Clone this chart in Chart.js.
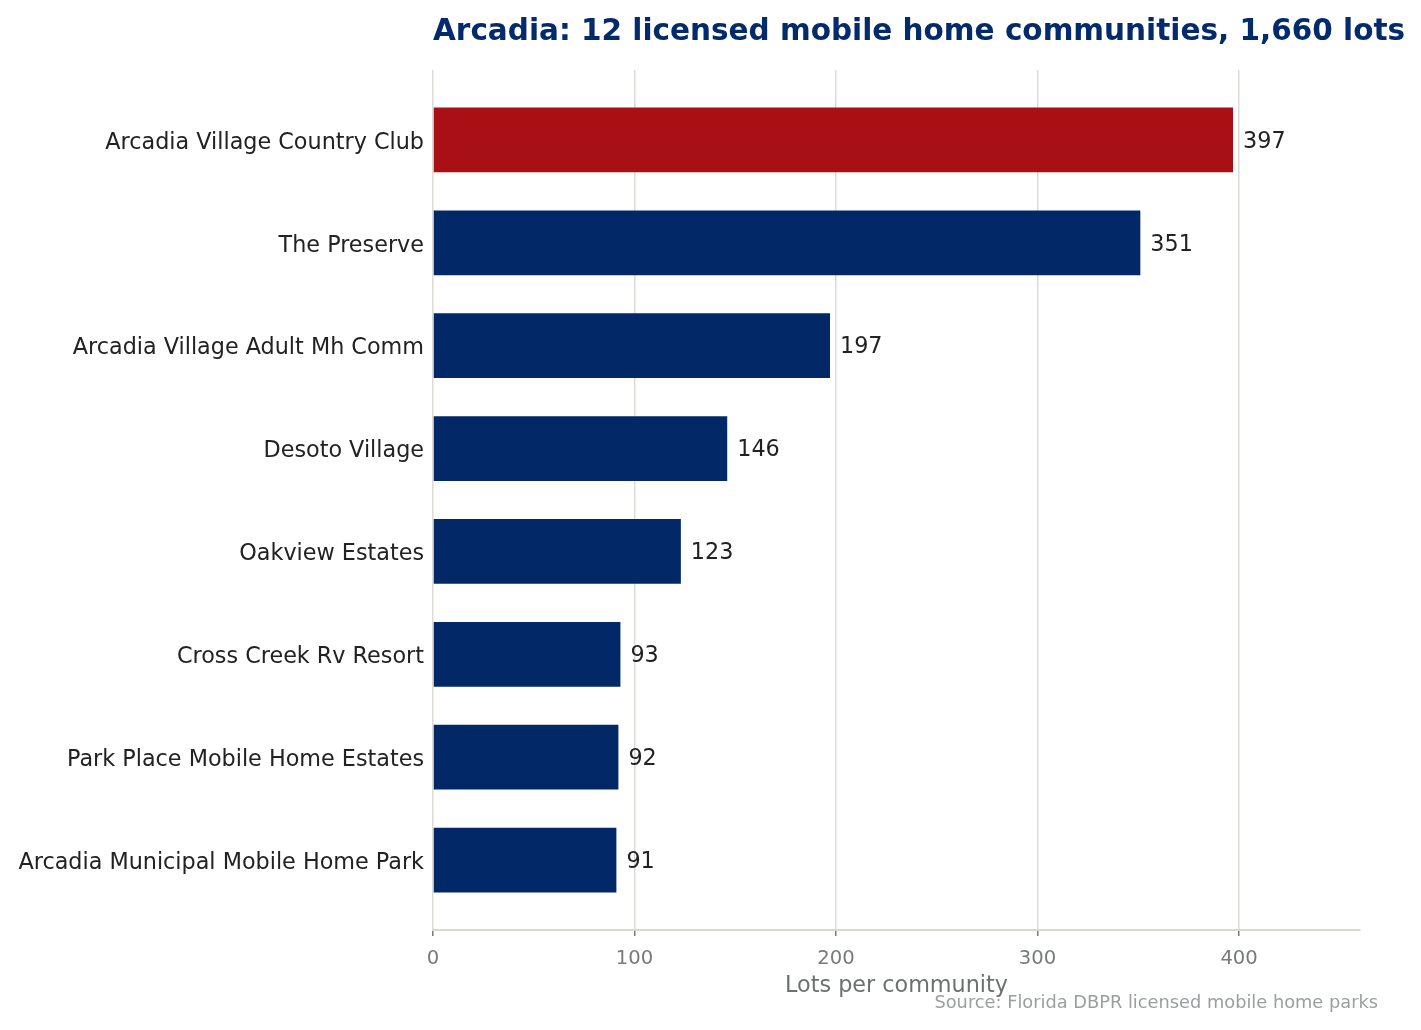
<!DOCTYPE html>
<html>
<head>
<meta charset="utf-8">
<script src="https://cdn.jsdelivr.net/npm/chart.js@4/dist/chart.umd.min.js"></script>
<style>
  html, body { margin: 0; padding: 0; background: #ffffff; }
  #wrap { width: 1421px; height: 1030px; position: relative; }
</style>
</head>
<body>
<div id="wrap"><canvas id="lotsChart"></canvas></div>
<script>
// Données
const communities = [
    'Arcadia Village Country Club',
    'The Preserve',
    'Arcadia Village Adult Mh Comm',
    'Desoto Village',
    'Oakview Estates',
    'Cross Creek Rv Resort',
    'Park Place Mobile Home Estates',
    'Arcadia Municipal Mobile Home Park'
];
const lots = [397, 351, 197, 146, 123, 93, 92, 91];
const xTickValues = [0, 100, 200, 300, 400];

const titleText = 'Arcadia: 12 licensed mobile home communities, 1,660 lots';
const sourceText = 'Source: Florida DBPR licensed mobile home parks';

const NAVY = '#022868';
const RED = '#a81015';

Chart.defaults.font.family = "'DejaVu Sans', 'Liberation Sans', sans-serif";

// Titre, source et valeurs au bout des barres
const annotations = {
    id: 'annotations',
    afterDatasetsDraw(chart) {
        const ctx = chart.ctx;
        const area = chart.chartArea;
        ctx.save();
        ctx.fillStyle = '#222222';
        ctx.font = "22.3px 'DejaVu Sans', sans-serif";
        ctx.textAlign = 'left';
        ctx.textBaseline = 'middle';
        chart.getDatasetMeta(0).data.forEach(function(bar, i) {
            ctx.fillText(lots[i], bar.x + 10, bar.y + 2);
        });

        ctx.fillStyle = '#032a6b';
        ctx.font = "bold 29.5px 'DejaVu Sans', sans-serif";
        ctx.fillText(titleText, area.left, 32);

        ctx.fillStyle = '#9a9e9f';
        ctx.font = "17.8px 'DejaVu Sans', sans-serif";
        ctx.textAlign = 'right';
        ctx.fillText(sourceText, 1378, 1003);
        ctx.restore();
    }
};

const lotsChart = new Chart(document.getElementById('lotsChart'), {
    type: 'bar',
    data: {
        datasets: [{
            data: lots.map(function(v, i) { return { x: v, y: i }; }),
            backgroundColor: lots.map(function(v, i) { return i === 0 ? RED : NAVY; }),
            barPercentage: 0.63,
            categoryPercentage: 1.0,
            borderWidth: 0
        }]
    },
    options: {
        indexAxis: 'y',
        responsive: true,
        maintainAspectRatio: false,
        animation: false,
        devicePixelRatio: 1,
        layout: {
            padding: { left: 0, right: 61, top: 70, bottom: 30 }
        },
        plugins: {
            legend: { display: false },
            title: { display: false },
            tooltip: { enabled: false }
        },
        scales: {
            x: {
                type: 'linear',
                min: 0,
                max: 460,
                afterBuildTicks: function(scale) {
                    scale.ticks = xTickValues.map(function(v) { return { value: v }; });
                },
                afterFit: function(scale) { scale.height = 70; },
                grid: {
                    color: '#dcdbd6',
                    lineWidth: 1.5,
                    drawTicks: true,
                    tickLength: 6,
                    tickColor: '#777b7a'
                },
                border: { display: true, color: '#dad7cd', width: 2 },
                ticks: {
                    color: '#777b7a',
                    font: { size: 19.6 },
                    padding: 11
                },
                title: {
                    display: true,
                    text: 'Lots per community',
                    color: '#6c716f',
                    font: { size: 22.3 },
                    padding: { top: 2, bottom: 0 }
                }
            },
            y: {
                type: 'linear',
                reverse: true,
                offset: false,
                min: -0.68,
                max: 7.68,
                afterBuildTicks: function(scale) {
                    scale.ticks = communities.map(function(c, i) { return { value: i }; });
                },
                afterFit: function(scale) { scale.width = 433; },
                grid: { display: false, drawTicks: false },
                border: { display: false },
                ticks: {
                    color: '#222222',
                    font: { size: 22.3 },
                    padding: 9,
                    labelOffset: 3,
                    autoSkip: false,
                    callback: function(value) {
                        return communities[value] !== undefined ? communities[value] : '';
                    }
                }
            }
        }
    },
    plugins: [annotations]
});
</script>
</body>
</html>
